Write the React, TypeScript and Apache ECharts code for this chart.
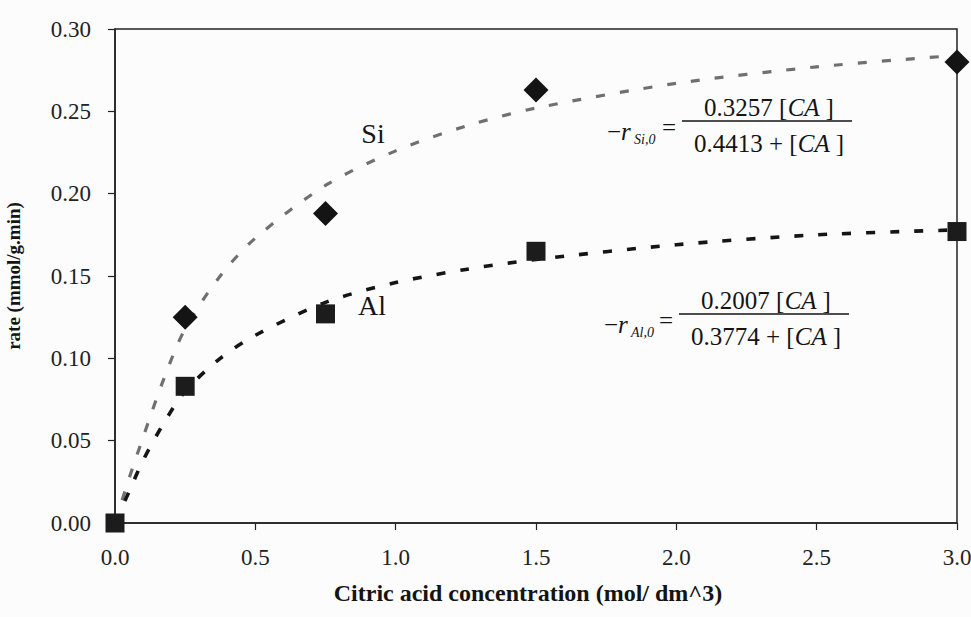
import React, { useEffect, useRef } from "react";
import * as echarts from "echarts";

// Measured rates (markers)
const siConc = [0.25, 0.75, 1.5, 3.0];
const siRate = [0.125, 0.188, 0.263, 0.28];
const alConc = [0, 0.25, 0.75, 1.5, 3.0];
const alRate = [0.0, 0.083, 0.127, 0.165, 0.177];

// Fitted (dashed) curves
const fitConc = [0, 0.05, 0.1, 0.175, 0.25, 0.375, 0.5, 0.75, 1.0, 1.25, 1.5, 2.0, 2.5, 3.0];
const siFit = [0, 0.027, 0.052, 0.088, 0.118, 0.15, 0.173, 0.205, 0.226, 0.241, 0.252, 0.267, 0.277, 0.284];
const alFit = [0, 0.019, 0.038, 0.061, 0.08, 0.1, 0.114, 0.134, 0.146, 0.154, 0.16, 0.169, 0.175, 0.178];

const SERIF = "Liberation Serif";
const INK = "#141414";

function pairs(xs: number[], ys: number[]) {
  return xs.map((x, i) => [x, ys[i]]);
}

function txt(x: number, y: number, text: string, size: number, extra: any = {}, align = "center") {
  return {
    type: "text",
    x,
    y,
    style: {
      text,
      fontSize: size,
      fontFamily: SERIF,
      fill: INK,
      align,
      verticalAlign: "middle",
      textAlign: align,
      textVerticalAlign: "middle",
      ...extra,
    },
  };
}

const italicRich = { i: { fontStyle: "italic", fontSize: 25, fontFamily: SERIF, fill: INK } };

function eq(y0: number, sub: string, num: string, den: string, dx: number) {
  const cx = 769 + dx;
  return [
    txt(607 + dx, y0 + 10, "−{i|r}", 25, { rich: italicRich }, "left"),
    txt(634 + dx, y0 + 18, sub, 14, { fontStyle: "italic" }, "left"),
    txt(669 + dx, y0 + 6, "=", 25),
    {
      type: "line",
      shape: { x1: 682 + dx, y1: y0, x2: 852 + dx, y2: y0 },
      style: { stroke: INK, lineWidth: 1.6 },
    },
    txt(cx, y0 - 14, num + " [{i|CA }]", 25, { rich: italicRich }),
    txt(cx, y0 + 22, den + " + [{i|CA }]", 25, { rich: italicRich }),
  ];
}

export default function App() {
  const ref = useRef<HTMLDivElement>(null);
  useEffect(() => {
    if (!ref.current) return;
    const chart = echarts.init(ref.current, undefined, { renderer: "svg" });
    const axisLabel = { fontSize: 23, fontFamily: SERIF, color: "#222" };
    chart.setOption({
      animation: false,
      backgroundColor: "#fcfcfc",
      grid: {
        left: 115,
        top: 29,
        right: 14,
        bottom: 94,
        containLabel: false,
        outerBoundsMode: "none",
        show: true,
        borderColor: "#222",
        borderWidth: 1.5,
        backgroundColor: "transparent",
      },
      xAxis: {
        type: "value",
        min: 0,
        max: 3,
        interval: 0.5,
        axisLine: { show: true, onZero: false, lineStyle: { color: "#222", width: 1.5 } },
        axisTick: { show: true, inside: false, length: 7, lineStyle: { color: "#222", width: 1.2 } },
        axisLabel: { ...axisLabel, margin: 23, formatter: (v: number) => v.toFixed(1) },
        splitLine: { show: false },
      },
      yAxis: {
        type: "value",
        min: 0,
        max: 0.3,
        interval: 0.05,
        name: "rate (mmol/g.min)",
        nameLocation: "middle",
        nameGap: 92,
        nameTextStyle: { fontSize: 19, fontWeight: "bold", fontFamily: SERIF, color: INK },
        axisLine: { show: true, onZero: false, lineStyle: { color: "#222", width: 1.5 } },
        axisTick: { show: true, inside: false, length: 7, lineStyle: { color: "#222", width: 1.2 } },
        axisLabel: { ...axisLabel, margin: 24, formatter: (v: number) => v.toFixed(2) },
        splitLine: { show: false },
      },
      series: [
        {
          name: "Si fit",
          type: "line",
          data: pairs(fitConc, siFit),
          smooth: 0.3,
          showSymbol: false,
          symbol: "none",
          lineStyle: { color: "#707070", width: 3.2, type: [9, 15] },
          z: 2,
        },
        {
          name: "Al fit",
          type: "line",
          data: pairs(fitConc, alFit),
          smooth: 0.3,
          showSymbol: false,
          symbol: "none",
          lineStyle: { color: "#151515", width: 3.6, type: [9, 15] },
          z: 2,
        },
        {
          name: "Si",
          type: "scatter",
          data: pairs(siConc, siRate),
          symbol: "diamond",
          symbolSize: [25, 25],
          itemStyle: { color: INK, opacity: 1 },
          z: 5,
        },
        {
          name: "Al",
          type: "scatter",
          data: pairs(alConc, alRate),
          symbol: "rect",
          symbolSize: 19,
          itemStyle: { color: "#1c1c1c", opacity: 1 },
          z: 5,
        },
      ],
      graphic: [
        txt(373, 133, "Si", 28),
        txt(372, 305, "Al", 28),
        ...eq(121, "Si,0", "0.3257", "0.4413", 0),
        ...eq(314, "Al,0", "0.2007", "0.3774", -3),
        txt(528, 593, "Citric acid concentration (mol/ dm^3)", 24, { fontWeight: "bold" }),
      ],
    });
    return () => chart.dispose();
  }, []);
  return (
    <div
      ref={ref}
      style={{ position: "fixed", left: 0, top: 0, width: 971, height: 617 }}
    />
  );
}
